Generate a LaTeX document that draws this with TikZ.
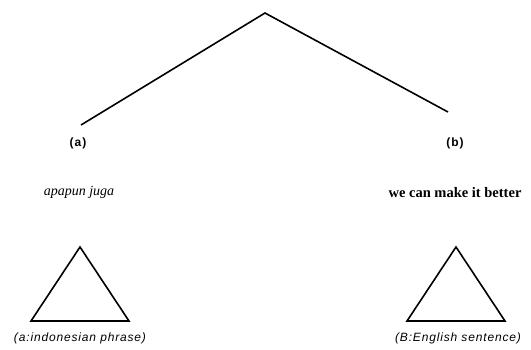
\documentclass[tikz,border=0pt]{standalone}
\usepackage{fontspec}
\setmainfont{Liberation Serif}
\setsansfont{Liberation Sans}
\begin{document}
\begin{tikzpicture}[x=1pt,y=-1pt,
  edge/.style={line width=1.6pt, line join=miter},
  tri/.style={line width=1.6pt, line join=miter},
  lab/.style={inner sep=0pt, font=\sffamily\bfseries\fontsize{12}{14}\selectfont\addfontfeature{LetterSpace=8}},
  word/.style={inner sep=0pt},
  cat/.style={inner sep=0pt, font=\sffamily\itshape\fontsize{12}{14}\selectfont\addfontfeature{LetterSpace=7}}]
\useasboundingbox (0,0) rectangle (531,349);
\coordinate (top) at (265,13);
\coordinate (lend) at (81,125);
\coordinate (rend) at (448,112);
\draw[edge] (lend) -- (top) -- (rend);
\node[lab] (la) at (78,143) {(a)};
\node[lab] (lb) at (455,143) {(b)};
\node[word, font=\itshape\fontsize{14}{16}\selectfont] (wa) at (79,192) {apapun juga};
\node[word, font=\bfseries\fontsize{14.5}{16}\selectfont] (wb) at (455,193) {we can make it better};
\coordinate (ta1) at (80,247);
\coordinate (ta2) at (31,321);
\coordinate (ta3) at (129,321);
\draw[tri] (ta1) -- (ta2) -- (ta3) -- cycle;
\coordinate (tb1) at (456,247);
\coordinate (tb2) at (407,321);
\coordinate (tb3) at (505,321);
\draw[tri] (tb1) -- (tb2) -- (tb3) -- cycle;
\node[cat] (ca) at (80,338) {(a:indonesian phrase)};
\node[cat] (cb) at (458,338) {(B:English sentence)};
\end{tikzpicture}
\end{document}
